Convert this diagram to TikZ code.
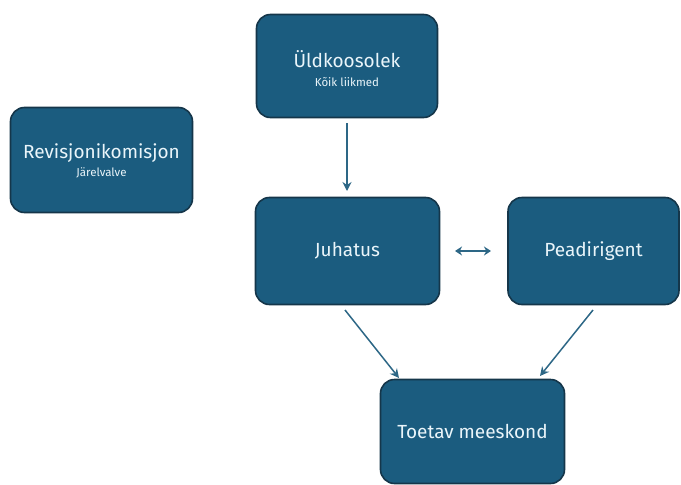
\documentclass[tikz,border=0pt]{standalone}
\usepackage{fontspec}
\setmainfont{Fira Sans}
\usetikzlibrary{arrows.meta}
\definecolor{boxfill}{HTML}{1B5C7F}
\definecolor{boxline}{HTML}{15364A}
\definecolor{boxtext}{HTML}{EAF5FA}
\definecolor{arrowcol}{HTML}{2D6786}
\tikzset{
  orgbox/.style={draw=boxline, line width=1.6pt, fill=boxfill, rounded corners=14pt,
    inner sep=0pt, text=boxtext, align=center},
  conn/.style={draw=arrowcol, line width=1.5pt, -{Stealth[length=9pt,width=9pt]}},
  dconn/.style={draw=arrowcol, line width=2.2pt, {Stealth[length=7pt,width=9pt]}-{Stealth[length=7pt,width=9pt]}},
  bigtxt/.style={text=boxtext, inner sep=0pt, font=\fontsize{19}{21}\selectfont},
  smalltxt/.style={text=boxtext, inner sep=0pt, font=\fontsize{11.5}{13}\selectfont}
}
\begin{document}
\begin{tikzpicture}[x=1pt,y=-1pt]
\useasboundingbox (0,0) rectangle (681,485);
\node[orgbox, minimum width=181pt, minimum height=103pt] (uld) at (347,66) {};
\node[bigtxt] (uldt) at (347,59) {Üldkoosolek};
\node[smalltxt] (ulds) at (347,82) {Kõik liikmed};
\node[orgbox, minimum width=182pt, minimum height=105pt] (rev) at (101.5,160) {};
\node[bigtxt] (revt) at (101.5,153) {Revisjonikomisjon};
\node[smalltxt] (revs) at (101.5,173) {Järelvalve};
\node[orgbox, minimum width=184pt, minimum height=107pt, bigtxt] (juh) at (347.5,251) {Juhatus};
\node[orgbox, minimum width=171pt, minimum height=107pt, bigtxt] (pea) at (593.5,251) {Peadirigent};
\node[orgbox, minimum width=184pt, minimum height=104pt, bigtxt] (toe) at (472.5,431.5) {Toetav meeskond};
\coordinate (a1s) at (347,123);
\coordinate (a1e) at (347,191);
\draw[conn] (a1s) -- (a1e);
\coordinate (d1) at (455,251);
\coordinate (d2) at (491,251);
\draw[dconn] (d1) -- (d2);
\coordinate (j1) at (345,310);
\coordinate (j2) at (399,378);
\draw[conn] (j1) -- (j2);
\coordinate (p1) at (593,310);
\coordinate (p2) at (540,376);
\draw[conn] (p1) -- (p2);
\end{tikzpicture}
\end{document}
